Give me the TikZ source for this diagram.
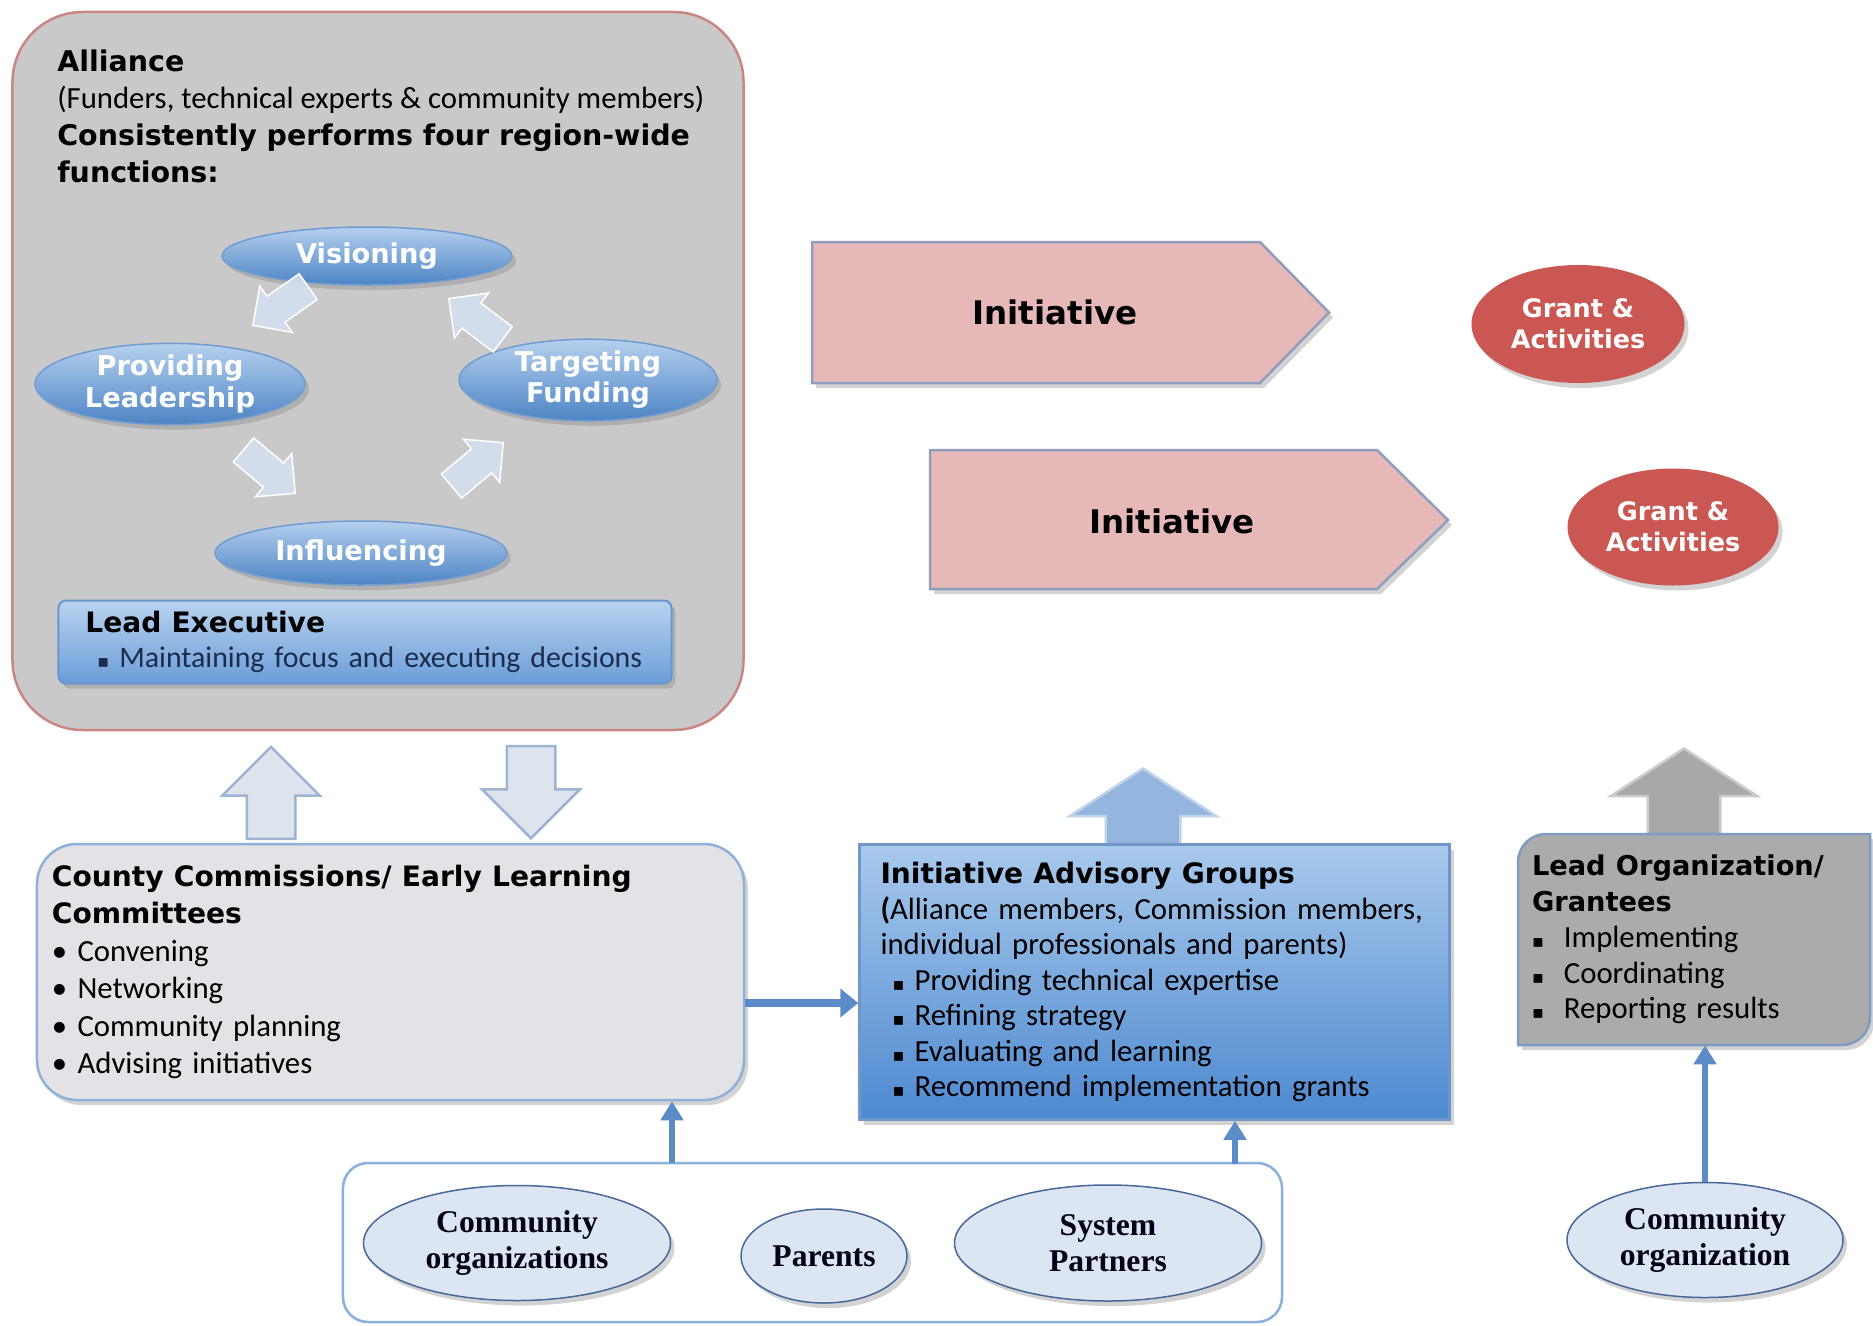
\documentclass[tikz,border=0pt]{standalone}
\usepackage{fontspec}
\setmainfont{Carlito}
\newfontfamily\headfont{DejaVu Sans}
\newfontfamily\serifc{Liberation Serif}
\usetikzlibrary{shapes.geometric,shapes.arrows,arrows.meta,shadows}
\definecolor{allfill}{HTML}{C9C9C9}
\definecolor{allline}{HTML}{C98683}
\definecolor{elltop}{HTML}{B5D0EE}
\definecolor{ellbot}{HTML}{4C84C4}
\definecolor{cycfill}{HTML}{D3E0EF}
\definecolor{exectop}{HTML}{B9D3F0}
\definecolor{execbot}{HTML}{6B9DD8}
\definecolor{execline}{HTML}{6A95CC}
\definecolor{execink}{HTML}{1C2C4C}
\definecolor{initfill}{HTML}{E6B9B8}
\definecolor{initline}{HTML}{8E9FBD}
\definecolor{grantfill}{HTML}{CB5752}
\definecolor{udfill}{HTML}{DEE4ED}
\definecolor{udline}{HTML}{9DB4D2}
\definecolor{cntyfill}{HTML}{E3E3E7}
\definecolor{cntyline}{HTML}{8FB0D8}
\definecolor{iagtop}{HTML}{A9C9EC}
\definecolor{iagbot}{HTML}{4D89D0}
\definecolor{iagline}{HTML}{6F97C8}
\definecolor{bluearr}{HTML}{94B6DE}
\definecolor{grayarr}{HTML}{A8A8A8}
\definecolor{orgfill}{HTML}{ABABAB}
\definecolor{orgline}{HTML}{7E9CC2}
\definecolor{connblue}{HTML}{5B8CC8}
\definecolor{grpline}{HTML}{8AB0DC}
\definecolor{partfill}{HTML}{DCE6F2}
\definecolor{partline}{HTML}{46689A}
\newcommand\sqbul{{\headfont\fontsize{10}{10}\selectfont ▪}}

\begin{document}
\begin{tikzpicture}[x=0.2mm,y=-0.2mm,
	dshadow/.style={drop shadow={opacity=0.35,shadow xshift=0.8mm,shadow yshift=-1mm}},
	cycell/.style={ellipse,draw=ellbot!80!white,line width=0.3mm,top color=elltop,bottom color=ellbot,text=white,align=center,inner sep=0pt,font=\headfont\bfseries\fontsize{15.5}{17.7}\selectfont,dshadow},
	cyca/.style={single arrow,anchor=tip,draw=white,line width=0.3mm,fill=cycfill,fill opacity=0.9,inner xsep=0pt,inner ysep=3mm,minimum height=13.5mm,single arrow head extend=2.5mm},
	udarr/.style={single arrow,anchor=tip,draw=udline,line width=0.5mm,fill=udfill,inner xsep=0pt,inner ysep=4.6mm,minimum height=18.4mm,single arrow head extend=4.9mm},
	bigup/.style={single arrow,anchor=tip,rotate=90,line width=0.5mm,inner xsep=0pt,single arrow tip angle=114},
	initarr/.style={draw=initline,line width=0.5mm,fill=initfill,dshadow},
	inittext/.style={font=\headfont\bfseries\fontsize{18.5}{22}\selectfont},
	grant/.style={ellipse,fill=grantfill,text=white,align=center,inner sep=0pt,font=\headfont\bfseries\fontsize{14.5}{17.7}\selectfont,dshadow},
	part/.style={ellipse,draw=partline,line width=0.3mm,fill=partfill,text=black!90!blue,align=center,inner sep=0pt,font=\serifc\bfseries\fontsize{18}{20.5}\selectfont,dshadow},
	conn/.style={draw=connblue,line width=1.1mm,-{Triangle[length=3.8mm,width=4.4mm]}}]
	\useasboundingbox (0,0) rectangle (1873,1325);

	\node[draw=allline,line width=0.5mm,fill=allfill,rounded corners=14mm,minimum width=146.2mm,minimum height=143.6mm] (alliance) at (378,371) {};
	\node[anchor=north west,inner sep=0pt,align=left,font=\headfont\bfseries\fontsize{16.2}{21}\selectfont] (alltitle) at (57,50) {Alliance\\ {\normalfont\fontsize{17.5}{21}\selectfont (Funders, technical experts \& community members)}\\ Consistently performs four region-wide\\ functions:};

	\node[cycell,minimum width=58mm,minimum height=11.6mm] (vis) at (367,256) {Visioning};
	\node[cycell,minimum width=54mm,minimum height=16mm] (lead) at (170,384) {Providing\\Leadership};
	\node[cycell,minimum width=51.6mm,minimum height=16mm] (fund) at (588,380) {Targeting\\Funding};
	\node[cycell,minimum width=58.4mm,minimum height=12.8mm] (infl) at (361,553) {Influencing};
	\node[cyca,rotate=215] (c1) at (252,326) {};
	\node[cyca,rotate=-40] (c2) at (296,494) {};
	\node[cyca,rotate=40] (c3) at (504,442) {};
	\node[cyca,rotate=143] (c4) at (448,298) {};

	\node[draw=execline,line width=0.4mm,top color=exectop,bottom color=execbot,rounded corners=1.5mm,minimum width=122.6mm,minimum height=16.6mm,text width=111.8mm,align=left,inner xsep=5.4mm,inner ysep=0pt,text=execink,dshadow,font=\fontsize{17}{20}\selectfont] (exec) at (365,642) {{\headfont\bfseries\fontsize{16}{20}\selectfont\color{black} Lead Executive}\\ \mbox{\hspace*{2.4mm}\sqbul\ Maintaining focus and executing decisions}};

	\draw[initarr] (812,242) -- (1260,242) -- (1329,312.5) -- (1260,383) -- (812,383) -- cycle;
	\node[inittext] (init1) at (1055,312) {Initiative};
	\draw[initarr] (930,450) -- (1377,450) -- (1448,520) -- (1377,589) -- (930,589) -- cycle;
	\node[inittext] (init2) at (1172,521) {Initiative};
	\node[grant,minimum width=42.6mm,minimum height=23.6mm] (grant1) at (1578,324) {Grant \&\\Activities};
	\node[grant,minimum width=42.2mm,minimum height=23.4mm] (grant2) at (1673,527) {Grant \&\\Activities};

	\node[udarr,rotate=90] (upa) at (271,745) {};
	\node[udarr,rotate=-90] (dna) at (531,840) {};
	\node[bigup,fill=bluearr,draw=bluearr!60!white,inner ysep=7.2mm,single arrow head extend=7.2mm,minimum height=15.6mm] (iagup) at (1143,767) {};
	\node[bigup,fill=grayarr,draw=grayarr!60!white,inner ysep=7mm,single arrow head extend=7.4mm,minimum height=17.4mm] (orgup) at (1684,747) {};

	\node[draw=cntyline,line width=0.5mm,fill=cntyfill,rounded corners=8mm,minimum width=141.4mm,minimum height=51.2mm,text width=135.4mm,inner xsep=3mm,align=left,dshadow,font=\fontsize{17.5}{21.3}\selectfont] (county) at (390.5,972) {{\headfont\bfseries\fontsize{16}{21.3}\selectfont County Commissions/ Early Learning}\\ {\headfont\bfseries\fontsize{16}{21.3}\selectfont Committees}\\ • Convening\\ • Networking\\ • Community planning\\ • Advising initiatives};

	\node[draw=iagline,line width=0.5mm,top color=iagtop,bottom color=iagbot,minimum width=118mm,minimum height=55mm,text width=109.6mm,inner xsep=4.2mm,align=left,dshadow,font=\fontsize{17.5}{20.2}\selectfont] (iag) at (1154.5,982) {{\headfont\bfseries\fontsize{16}{20.2}\selectfont Initiative Advisory Groups}\\ \textbf{(}Alliance members, Commission members,\\ individual professionals and parents)\\ \hspace*{2.4mm}\sqbul\ Providing technical expertise\\ \hspace*{2.4mm}\sqbul\ Refining strategy\\ \hspace*{2.4mm}\sqbul\ Evaluating and learning\\ \hspace*{2.4mm}\sqbul\ Recommend implementation grants};

	\draw[draw=orgline,line width=0.5mm,fill=orgfill,dshadow] (1518,1045) -- (1518,862) arc[start angle=180,end angle=90,radius=5.6mm] -- (1870,834) -- (1870,1017) arc[start angle=0,end angle=-90,radius=5.6mm] -- cycle;
	\node[minimum width=70.4mm,minimum height=42.2mm,text width=64.8mm,inner xsep=2.8mm,align=left,font=\fontsize{17.5}{20.4}\selectfont] (leadorg) at (1694,939.5) {{\headfont\bfseries\fontsize{15.5}{20.4}\selectfont Lead Organization/}\\ {\headfont\bfseries\fontsize{15.5}{20.4}\selectfont Grantees}\\ \sqbul\hspace{4mm}Implementing\\ \sqbul\hspace{4mm}Coordinating\\ \sqbul\hspace{4mm}Reporting results};

	\node[draw=grpline,line width=0.5mm,fill=white,rounded corners=5mm,minimum width=187.8mm,minimum height=31.8mm] (grp) at (812.5,1242.5) {};
	\node[part,minimum width=61.4mm,minimum height=23mm] (corgs) at (517,1243) {Community\\organizations};
	\node[part,minimum width=33.2mm,minimum height=18.8mm] (parents) at (824,1256) {Parents};
	\node[part,minimum width=61.4mm,minimum height=23.2mm] (syspart) at (1108,1243) {System\\Partners};
	\node[part,minimum width=55.2mm,minimum height=23mm] (corg) at (1705,1240) {Community\\organization};

	\coordinate (ca) at (744,1003);
	\coordinate (g1) at (672,1163);
	\coordinate (g2) at (1235,1164);
	\draw[conn,line width=1.5mm,-{Triangle[length=3.6mm,width=5.6mm]}] (ca -| county.east) -- (ca -| iag.west);
	\draw[conn] (g1) -- (g1 |- county.south);
	\draw[conn] (g2) -- (g2 |- iag.south);
	\draw[conn] (corg.north) -- (corg.north |- leadorg.south);
\end{tikzpicture}
\end{document}
